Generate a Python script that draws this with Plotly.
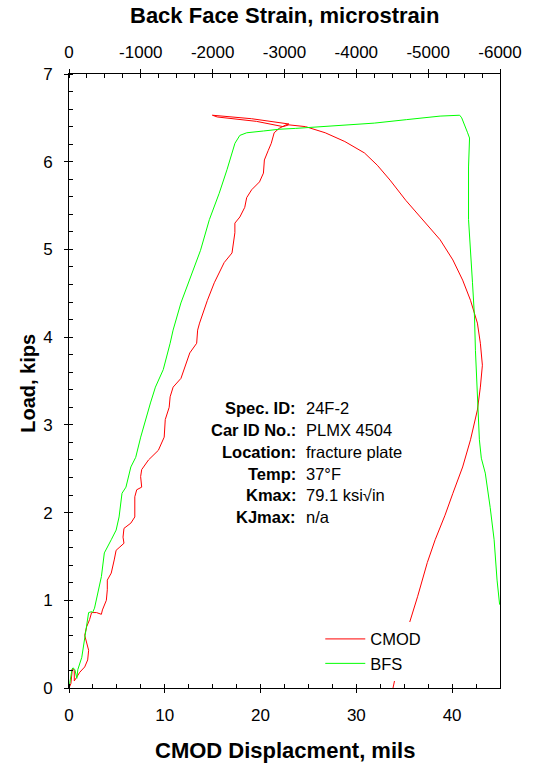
import plotly.graph_objects as go

# CMOD displacement (mils) and load (kips)
cmod_mils = [0.0, 0.2, 0.35, 0.55, 0.55, 0.75, 1.13, 1.64, 1.95, 2.05, 1.85, 1.64, 1.85, 2.15,
             2.36, 2.87, 3.38, 3.49, 3.90, 4.00, 4.00, 4.41, 4.72, 4.92, 5.23, 5.74, 5.64,
             5.74, 6.46, 6.87, 6.87, 7.07, 7.59, 7.48, 7.59, 8.30, 9.33, 9.94, 10.05, 10.46,
             10.56, 10.87, 11.69, 12.10, 12.61, 13.33, 13.43, 13.63, 14.45, 15.17, 16.20,
             17.02, 17.32, 17.32, 17.84, 18.35, 18.55, 19.07, 19.89, 20.30, 20.40, 20.81,
             21.12, 21.42, 21.94, 22.65, 22.96, 19.07, 14.97, 15.48, 19.58, 22.35, 22.96,
             24.70, 26.75, 28.80, 30.85, 32.19, 33.52, 35.16, 36.93, 38.75, 40.08, 41.10,
             41.92, 42.64, 42.95, 43.16, 42.95, 42.64, 41.92, 41.10, 40.08, 39.26, 38.23,
             37.41, 36.39, 35.57, 34.44, 33.83]
cmod_load = [0.0, 0.05, 0.22, 0.20, 0.08, 0.12, 0.18, 0.24, 0.32, 0.43, 0.51, 0.60, 0.70, 0.78,
             0.86, 0.86, 0.84, 0.89, 1.00, 1.12, 1.23, 1.31, 1.46, 1.57, 1.60, 1.65, 1.72,
             1.82, 1.88, 1.95, 2.18, 2.26, 2.29, 2.41, 2.49, 2.60, 2.71, 2.86, 3.06, 3.20,
             3.32, 3.43, 3.53, 3.66, 3.82, 3.93, 4.08, 4.16, 4.42, 4.62, 4.85,
             4.96, 5.19, 5.30, 5.37, 5.48, 5.59, 5.68, 5.77, 5.87, 6.02, 6.13,
             6.21, 6.33, 6.38, 6.42, 6.43, 6.49, 6.53, 6.51, 6.46, 6.40, 6.42,
             6.40, 6.33, 6.23, 6.10, 5.96, 5.79, 5.56, 5.34, 5.11, 4.88, 4.65,
             4.42, 4.16, 3.93, 3.68, 3.43, 3.17, 2.83, 2.52, 2.22, 1.97, 1.69,
             1.43, 1.04, 0.75, 0.32, 0.0]

# Back face strain (microstrain) and load (kips)
bfs_strain = [0, -14, -41, -55, -82, -109, -123, -178, -219, -260, -273, -314, -328, -355,
              -396, -451, -492, -533, -588, -656, -697, -738, -793, -861, -929, -998, -1066,
              -1134, -1203, -1312, -1408, -1449, -1558, -1695, -1831, -1954, -2091, -2200,
              -2310, -2378, -2474, -2706, -2925, -3157, -4250, -4701, -5166, -5439, -5467,
              -5549, -5576, -5562, -5562, -5562, -5617, -5645, -5658, -5685, -5713, -5740,
              -5795, -5863, -5918, -5959, -5995]
bfs_load = [0.0, 0.09, 0.21, 0.23, 0.21, 0.11, 0.21, 0.35, 0.55, 0.75, 0.86, 0.87, 0.86, 0.91,
            1.08, 1.27, 1.54, 1.60, 1.69, 1.80, 1.95, 2.22, 2.29, 2.52, 2.63, 2.86, 3.06,
            3.25, 3.43, 3.63, 3.93, 4.08, 4.39, 4.69, 4.99, 5.34, 5.64, 5.91,
            6.21, 6.30, 6.33, 6.35, 6.37, 6.38, 6.44, 6.48, 6.52, 6.53, 6.50,
            6.33, 6.27, 5.94, 5.56, 5.34, 4.62, 4.23, 3.85, 3.28, 2.83, 2.62,
            2.45, 2.06, 1.69, 1.23, 0.95]

cmod_ticks = [0, 10, 20, 30, 40]
strain_ticks = [0, -1000, -2000, -3000, -4000, -5000, -6000]
strain_tick_text = ["0", "-1000", "-2000", "-3000", "-4000", "-5000", "-6000"]
load_ticks = [0, 1, 2, 3, 4, 5, 6, 7]

spec_labels = ["Spec. ID:", "Car ID No.:", "Location:", "Temp:", "Kmax:", "KJmax:"]
spec_values = ["24F-2", "PLMX 4504", "fracture plate", "37°F", "79.1 ksi√in", "n/a"]

FONT = "Liberation Sans, Arial, sans-serif"
TICKFONT = dict(family=FONT, size=17, color="black")

fig = go.Figure()
fig.add_trace(go.Scatter(x=cmod_mils, y=cmod_load, mode="lines", name="CMOD",
                         line=dict(color="#ff0000", width=1), xaxis="x", yaxis="y"))
fig.add_trace(go.Scatter(x=bfs_strain, y=bfs_load, mode="lines", name="BFS",
                         line=dict(color="#00ff00", width=1), xaxis="x2", yaxis="y"))

common = dict(showgrid=False, zeroline=False, ticklen=4, tickwidth=1, tickcolor="black",
              linecolor="black", linewidth=1)

# Labelled axes: major ticks outside, minor ticks inside
xaxis = dict(common, range=[0, 45], tickvals=cmod_ticks, ticks="outside", showline=True,
             tickfont=TICKFONT, ticklabelstandoff=8,
             minor=dict(dtick=2.5, tick0=0, ticks="inside", ticklen=4, tickcolor="black"))
xaxis2 = dict(common, range=[0, -6000], tickvals=strain_ticks, ticktext=strain_tick_text,
              ticks="outside", showline=True, side="top", overlaying="x", anchor="y",
              tickfont=TICKFONT, ticklabelstandoff=4,
              minor=dict(dtick=250, tick0=0, ticks="inside", ticklen=4, tickcolor="black"))
yaxis = dict(common, range=[0, 7], tickvals=load_ticks, ticks="outside", showline=True,
             mirror=True, tickfont=TICKFONT, ticklabelstandoff=8,
             minor=dict(dtick=0.2, tick0=0, ticks="inside", ticklen=4, tickcolor="black"))
# Unlabelled twins so the major ticks cross the axis lines
xaxis3 = dict(common, range=[0, 45], tickvals=cmod_ticks, ticks="inside", showline=False,
              showticklabels=False, overlaying="x", anchor="y", side="bottom")
xaxis4 = dict(common, range=[0, -6000], tickvals=strain_ticks, ticks="inside", showline=False,
              showticklabels=False, overlaying="x", anchor="y", side="top")
yaxis2 = dict(common, range=[0, 7], tickvals=load_ticks, ticks="inside", showline=False,
              showticklabels=False, overlaying="y", anchor="x", side="left")

annotations = [
    dict(text="<b>Back Face Strain, microstrain</b>", x=0.5, y=1.0945, xref="paper",
         yref="paper", xanchor="center", yanchor="middle", showarrow=False,
         font=dict(family=FONT, size=22, color="black")),
    dict(text="<b>CMOD Displacment, mils</b>", x=0.5, y=-0.101, xref="paper", yref="paper",
         xanchor="center", yanchor="middle", showarrow=False,
         font=dict(family=FONT, size=22, color="black")),
    dict(text="<b>Load, kips</b>", x=-0.0957, y=0.4967, xref="paper", yref="paper",
         xanchor="center", yanchor="middle", showarrow=False, textangle=-90,
         font=dict(family=FONT, size=20, color="black")),
]
row_y = [0.456, 0.4202, 0.3844, 0.3485, 0.3143, 0.2785]
for lab, val, yy in zip(spec_labels, spec_values, row_y):
    annotations.append(dict(text="<b>" + lab + "</b>", x=0.5308, y=yy, xref="paper",
                             yref="paper", xanchor="right", yanchor="middle",
                             showarrow=False, font=dict(family=FONT, size=16.5, color="black")))
    annotations.append(dict(text=val, x=0.5444, y=yy, xref="paper", yref="paper",
                            xanchor="left", yanchor="middle", showarrow=False,
                            font=dict(family=FONT, size=16.5, color="black")))

fig.update_layout(
    width=534, height=763,
    margin=dict(l=69, r=26, t=74, b=75),
    paper_bgcolor="white", plot_bgcolor="white",
    xaxis=xaxis, xaxis2=xaxis2, xaxis3=xaxis3, xaxis4=xaxis4,
    yaxis=yaxis, yaxis2=yaxis2,
    showlegend=True,
    legend=dict(x=0.583, y=0.108, xanchor="left", yanchor="top", bgcolor="white",
                borderwidth=0, font=dict(family=FONT, size=16.5, color="black"),
                itemwidth=40, tracegroupgap=0),
    annotations=annotations,
)

fig.write_html("out.html")
